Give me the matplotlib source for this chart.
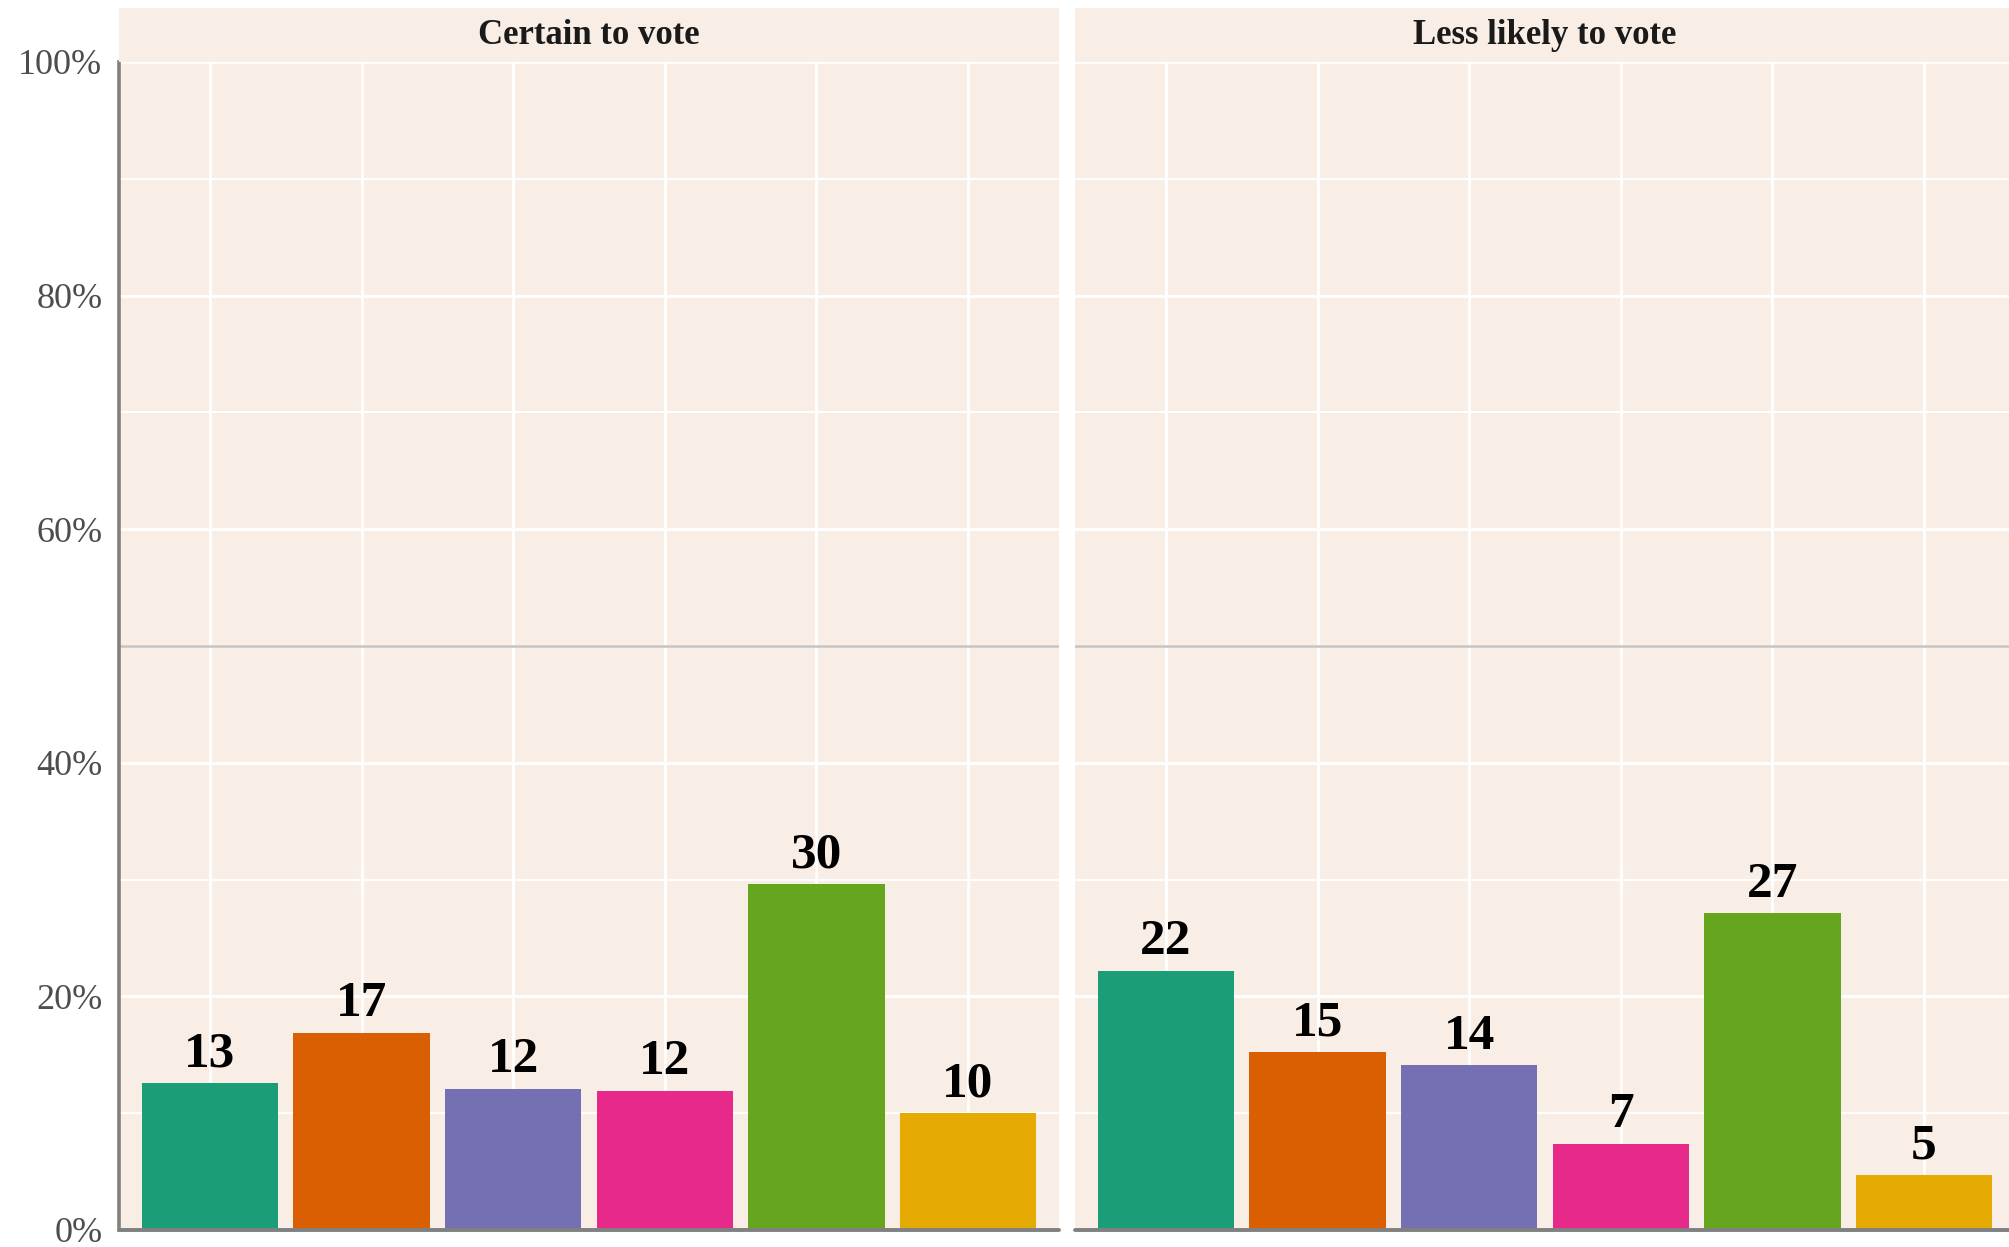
import numpy as np
import matplotlib.pyplot as plt

# data (percent)
panels = ['Certain to vote', 'Less likely to vote']
groups = ['A', 'B', 'C', 'D', 'E', 'F']
certain = [12.6, 16.9, 12.1, 11.9, 29.6, 10.0]
less_likely = [22.2, 15.2, 14.1, 7.4, 27.1, 4.7]
y_ticks = [0, 20, 40, 60, 80, 100]
y_tick_labels = ['0%', '20%', '40%', '60%', '80%', '100%']

colors = ['#1B9E77', '#D95F02', '#7570B3', '#E7298A', '#66A61E', '#E6AB02']
bg = '#F9EEE5'
serif = ['Liberation Serif', 'DejaVu Serif']

W, H = 2009, 1247
fig = plt.figure(figsize=(W / 100, H / 100), dpi=100)

# panel placement in pixels: left edge, right edge (right panel runs past the figure edge)
panel_px = [(119, 1059), (1075, 2015)]
top_px, bot_px, strip_top = 62, 1230, 8

x = np.arange(1, len(groups) + 1)
for i, (name, vals) in enumerate(zip(panels, [certain, less_likely])):
    l, r = panel_px[i]
    ax = fig.add_axes([l / W, (H - bot_px) / H, (r - l) / W, (bot_px - top_px) / H])
    ax.set_facecolor(bg)
    ax.set_xlim(0.4, len(groups) + 0.6)
    ax.set_ylim(0, 100)
    ax.set_yticks(y_ticks)
    ax.set_yticks([10, 30, 50, 70, 90], minor=True)
    ax.set_xticks(x)
    ax.grid(True, which='major', color='white', lw=2)
    ax.grid(True, which='minor', axis='y', color='white', lw=1.4)
    ax.set_axisbelow(True)
    ax.axhline(50, color='#C4C4C4', lw=1.8, zorder=1)
    ax.bar(x, vals, width=0.9, color=colors, zorder=2)
    for xi, v in zip(x, vals):
        ax.annotate('%.0f' % v, (xi, v), xytext=(0, 12), textcoords='offset points',
                    ha='center', va='baseline', fontsize=37, fontweight='bold',
                    family=serif, color='black')
    for s in ['top', 'right']:
        ax.spines[s].set_visible(False)
    ax.spines['bottom'].set_color('#808080')
    ax.spines['bottom'].set_linewidth(2.8)
    ax.spines['bottom'].set_capstyle('round')
    ax.tick_params(axis='x', length=0, labelbottom=False)
    ax.tick_params(axis='y', which='both', length=0)
    if i == 0:
        ax.spines['left'].set_color('#808080')
        ax.spines['left'].set_linewidth(2.6)
        ax.set_yticklabels(y_tick_labels, fontsize=26, family=serif, color='#4D4D4D')
        ax.tick_params(axis='y', pad=12)
    else:
        ax.spines['left'].set_visible(False)
        ax.tick_params(axis='y', labelleft=False)

    # facet strip on top of each panel
    strip = fig.add_axes([l / W, (H - top_px) / H, (r - l) / W, (top_px - strip_top) / H])
    strip.set_facecolor(bg)
    strip.set_xticks([])
    strip.set_yticks([])
    for s in strip.spines.values():
        s.set_visible(False)
    strip.text(0.5, 0.5, name, transform=strip.transAxes, ha='center', va='center',
               fontsize=25, fontweight='bold', family=serif, color='#1A1A1A')

fig.savefig('out.png', dpi=100)
